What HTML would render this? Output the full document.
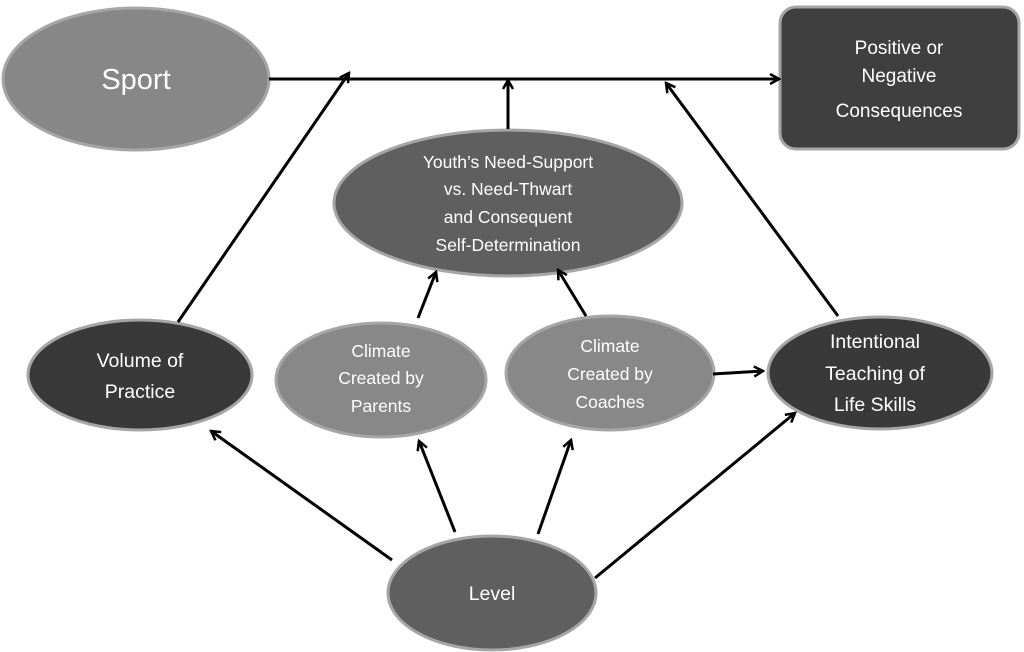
<!DOCTYPE html>
<html><head><meta charset="utf-8"><style>
html,body{margin:0;padding:0;background:#fff;}
svg{display:block;}
text{font-family:"Liberation Sans",sans-serif;fill:#fff;text-anchor:middle;}
</style></head><body>
<svg width="1024" height="652" viewBox="0 0 1024 652" xmlns="http://www.w3.org/2000/svg">
<defs>
<marker id="a" viewBox="0 0 12 12" refX="10" refY="6" markerWidth="12" markerHeight="12" markerUnits="userSpaceOnUse" orient="auto">
<path d="M1,1 L10,6 L1,11" fill="none" stroke="#000" stroke-width="2.5"/>
</marker>
</defs>
<g stroke="#a6a6a6" stroke-width="3">
<ellipse cx="136" cy="79" rx="133" ry="71" fill="#878787"/>
<rect x="780" y="7" width="239" height="142" rx="16" fill="#3f3f3f"/>
<ellipse cx="508" cy="203" rx="174" ry="73" fill="#5f5f5f"/>
<ellipse cx="140" cy="375" rx="112" ry="55" fill="#393939"/>
<ellipse cx="381" cy="380" rx="105" ry="57" fill="#888"/>
<ellipse cx="610" cy="373" rx="104" ry="57" fill="#888"/>
<ellipse cx="880" cy="373" rx="112" ry="56" fill="#393939"/>
<ellipse cx="492" cy="593" rx="104" ry="57" fill="#5f5f5f"/>
</g>
<g stroke="#000" stroke-width="3" marker-end="url(#a)">
<line x1="269" y1="79" x2="779" y2="79"/>
<line x1="178" y1="322" x2="349" y2="73"/>
<line x1="508" y1="129" x2="508" y2="80"/>
<line x1="838" y1="316" x2="666" y2="83"/>
<line x1="418" y1="318" x2="436" y2="272"/>
<line x1="586" y1="316" x2="558" y2="270"/>
<line x1="713" y1="374" x2="763" y2="371"/>
<line x1="392" y1="560" x2="211" y2="431"/>
<line x1="455" y1="532" x2="419" y2="441"/>
<line x1="538" y1="534" x2="571" y2="440"/>
<line x1="595" y1="578" x2="795" y2="413"/>
</g>
<text x="136" y="89" font-size="29">Sport</text>
<text x="899" y="54" font-size="19">Positive or</text>
<text x="899" y="82" font-size="19">Negative</text>
<text x="899" y="117" font-size="19">Consequences</text>
<g font-size="17.5">
<text x="508" y="168">Youth’s Need-Support</text>
<text x="508" y="195">vs. Need-Thwart</text>
<text x="508" y="223">and Consequent</text>
<text x="508" y="251">Self-Determination</text>
</g>
<text x="140" y="367" font-size="19.5">Volume of</text>
<text x="140" y="398" font-size="19.5">Practice</text>
<g font-size="17.5">
<text x="381" y="357">Climate</text>
<text x="381" y="384">Created by</text>
<text x="381" y="412">Parents</text>
<text x="610" y="352">Climate</text>
<text x="610" y="380">Created by</text>
<text x="610" y="408">Coaches</text>
</g>
<g font-size="19.5">
<text x="875" y="348">Intentional</text>
<text x="875" y="380">Teaching of</text>
<text x="875" y="411">Life Skills</text>
</g>
<text x="492" y="600" font-size="19.5">Level</text>
</svg>
</body></html>
